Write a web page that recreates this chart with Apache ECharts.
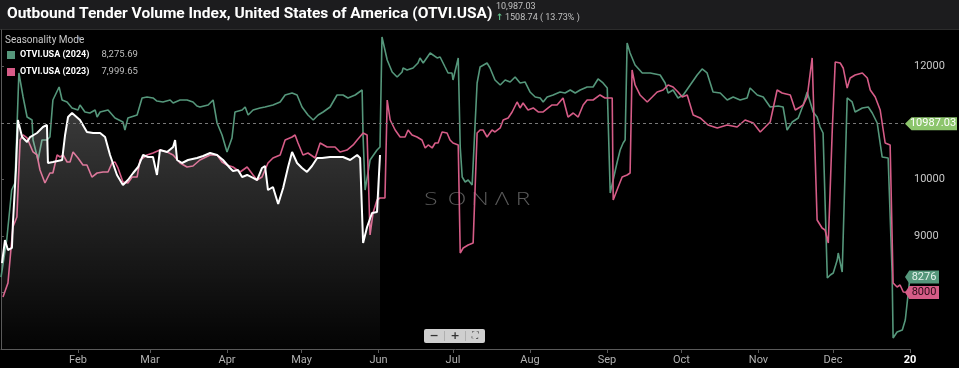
<!DOCTYPE html>
<html><head><meta charset="utf-8">
<script src="https://cdn.jsdelivr.net/npm/echarts@6/dist/echarts.min.js"></script>
<style>html,body{margin:0;padding:0;background:#000;}#c{width:959px;height:368px;}</style>
</head><body><div id="c"></div>
<script>
// x = day of year (0 = Jan 1), y = index value
const monthTickDays = [31,60,91,121,152,182,213,244,274,305,335,366];
const monthTickLabels = ['Feb','Mar','Apr','May','Jun','Jul','Aug','Sep','Oct','Nov','Dec','20'];

const otvi2024 = [[0,8274],[2.3,8929],[4.3,9814],[5.6,9938],[6.3,10752],[7.2,11885],[8.9,11460],[10.5,11106],[12.5,11053],[12.9,10699],[14.9,10345],[16.5,10699],[18.5,10699],[19.7,10752],[20.9,11407],[23.4,11637],[24.6,11407],[26.6,11372],[28.6,11266],[31,11230],[31.8,11319],[33.8,11195],[35.8,11177],[37.9,11230],[38.7,11106],[39.9,11195],[43.1,11230],[45.9,11089],[49.1,11018],[49.9,10876],[51.1,11089],[54.8,11142],[56.8,11443],[58.8,11460],[61.2,11443],[62.8,11389],[65.2,11372],[68.1,11407],[69.3,11354],[72.1,11407],[74.9,11407],[77.3,11372],[78.9,11301],[80.1,11283],[83.4,11319],[85.4,11407],[87,11000],[89,10788],[91,10487],[93,10735],[94.2,11195],[97.1,11230],[98.3,11283],[99.5,11142],[101.5,11230],[104.3,11266],[106.3,11283],[109.5,11319],[112.4,11372],[114.4,11496],[117.2,11531],[119.2,11496],[121.2,11283],[123.6,11142],[125.7,11053],[127.7,11142],[129.7,11195],[132.5,11283],[135.3,11496],[137.7,11496],[139.7,11443],[142.6,11496],[145.4,11584],[145.8,10752],[146.6,9814],[148.6,10345],[151.4,10522],[152.6,10575],[153.4,12522],[155.5,12115],[157.5,11903],[159.5,11814],[161.5,11903],[161.9,11974],[163.5,11938],[165.9,11974],[167.9,12062],[168.7,12151],[170,12062],[172.8,12239],[175.6,12151],[176.8,12168],[178.8,11991],[180,11885],[181.6,11885],[182,11761],[184.1,12151],[184.9,10575],[185.7,10044],[186.9,9956],[188.1,9991],[189.7,9903],[190.1,9903],[191.7,11708],[192.9,11991],[195.7,12062],[196.9,11974],[198.9,11761],[201,11673],[203,11761],[205,11726],[207,11814],[209,11708],[211,11726],[213,11549],[215.1,11460],[217.1,11443],[218.3,11372],[219.9,11460],[222.3,11496],[225.1,11549],[227.1,11531],[229.2,11584],[231.2,11531],[233.2,11584],[236,11637],[238.4,11637],[240.4,11779],[242.4,11708],[244.1,11620],[245.3,9761],[248.1,10310],[249.3,10522],[250.5,10646],[251.3,10699],[252.1,12416],[253.3,12239],[255.3,12027],[258.2,11885],[261.4,11885],[265.4,11850],[267.4,11708],[268.6,11531],[270.6,11584],[272.6,11443],[274.7,11496],[277.5,11673],[280.3,11850],[282.3,11956],[284.3,11885],[286.7,11549],[289.6,11531],[292.4,11407],[294.8,11460],[297.6,11407],[300.4,11443],[301.6,11620],[304.5,11496],[306.9,11460],[309.7,11283],[312.9,11301],[314.9,11283],[316.5,10876],[318.6,11018],[321,11089],[323,11319],[324.6,11549],[325.8,11372],[327,11195],[328.6,11106],[329.8,10929],[331,10823],[332.7,8257],[333.9,8310],[335.1,8345],[336.7,8575],[337.1,8699],[338.7,8363],[340.7,11443],[342.7,11372],[343.9,11195],[346.8,11266],[349.2,11283],[350.8,11177],[352.8,11000],[354.8,10398],[357.2,10381],[358.8,8345],[359.2,7195],[360.8,7301],[362.9,7336],[364.1,7513],[364.9,7478],[366,8276]];

const otvi2023 = [[0.8,7920],[2.8,8168],[4.8,9159],[6.4,9336],[7.7,10699],[8.9,10788],[10.5,10735],[11.7,10611],[12.9,10487],[14.5,10434],[15.7,10168],[17.7,9938],[19.7,10115],[20.9,10115],[22.6,10434],[23.8,10398],[25,10434],[26.6,10310],[27.8,10310],[29,10487],[31,10381],[33,10257],[34.6,10257],[36.6,10044],[38.7,10115],[41.1,10133],[43.1,10133],[44.7,10292],[45.9,10310],[47.1,10204],[49.1,9956],[51.1,9938],[52.8,10044],[54.8,10044],[56,10345],[58.8,10434],[61.2,10469],[64,10522],[66.9,10487],[69.3,10434],[72.1,10292],[74.9,10221],[77.3,10239],[80.1,10345],[84.2,10434],[87,10434],[89,10310],[91,10257],[93.4,10221],[96.3,10133],[99.1,10221],[101.5,10080],[103.1,9991],[105.1,10044],[107.5,10292],[109.5,10381],[112.4,10434],[114.4,10699],[117.2,10752],[118.4,10788],[119.6,10646],[121.6,10434],[123.6,10469],[126.5,10381],[128.5,10646],[131.3,10575],[134.5,10575],[136.5,10487],[139.3,10522],[141.8,10611],[143.4,10699],[145.8,10823],[147.4,10788],[148.6,9018],[149.8,9407],[151.4,9637],[152.6,9672],[154.6,9672],[155.5,11407],[156.7,11053],[158.7,10876],[160.7,10752],[162.7,10752],[163.9,10876],[165.5,10788],[167.5,10752],[169.5,10699],[170.8,10558],[172,10611],[173.6,10558],[174.8,10646],[176,10646],[177.6,10841],[179.6,10823],[180.8,10699],[182,10646],[184.1,10611],[184.9,8699],[186.1,8788],[188.1,8841],[190.1,8876],[191.7,10823],[192.9,10876],[194.1,10876],[195.7,10752],[197.7,10876],[198.9,10841],[201,10912],[202.2,11053],[204.2,11089],[205.8,11195],[207.8,11372],[209,11266],[210.2,11354],[212.2,11230],[214.3,11266],[216.3,11195],[218.3,11195],[220.3,11266],[221.9,11319],[223.9,11319],[226.3,11443],[228.3,11106],[230.4,11177],[232.4,11106],[234.4,11319],[236,11407],[238.4,11407],[241.2,11496],[243.2,11443],[246.1,11443],[246.5,9637],[248.5,9867],[250.1,10044],[252.1,10080],[253.3,10115],[254.1,11938],[255.3,11673],[257.3,11496],[260.2,11372],[262.2,11460],[264.2,11549],[266.6,11584],[268.6,11673],[270.6,11637],[272.6,11549],[274.3,11460],[276.3,11496],[278.7,11142],[281.5,11089],[284.7,10965],[288.4,10912],[292.4,10965],[296.4,10929],[299.6,11053],[302.9,11000],[305.7,10841],[307.7,10929],[309.7,11018],[312.5,11584],[314.5,11531],[317.8,11496],[319.8,11230],[321.8,11283],[323,11319],[324.6,11460],[326.6,12151],[328.6,9283],[330.6,9142],[331.8,9106],[333.1,8876],[334.7,10876],[335.9,12080],[337.9,12062],[339.1,11974],[340.7,11620],[341.9,11797],[343.9,11850],[346.8,11885],[348.8,11797],[350,11584],[352,11460],[354,11230],[356,10646],[358,10611],[359.2,8168],[360.8,8097],[362,8133],[363.3,8009],[366,8000]];

const otviCurrent = [[0.4,8522],[1.6,8929],[2.8,8752],[4.4,8788],[4.8,9230],[6,10168],[6.8,11053],[8.5,10752],[10.5,10664],[11.7,10752],[14.5,10823],[16.9,10929],[18.5,10965],[18.9,10292],[20.9,10310],[24.6,10345],[25.8,10788],[27,11106],[28.6,11177],[31.8,11053],[34.6,10841],[37.1,10823],[39.9,10823],[41.9,10752],[43.9,10434],[46.7,10080],[49.1,9903],[51.1,9991],[53.2,10115],[55.2,10221],[57.2,10434],[59.2,10398],[61.2,10398],[62.8,10080],[64,10522],[66.9,10487],[69.3,10575],[70.1,10699],[70.9,10345],[72.9,10292],[75.3,10345],[78.9,10381],[81.4,10416],[84.2,10469],[87,10434],[89.4,10345],[92.2,10204],[93.4,10150],[95.4,10168],[97.1,10044],[99.1,10080],[101.5,10027],[103.1,9991],[105.1,10204],[106.3,10239],[107.5,9814],[109.5,9867],[111.6,9566],[113.6,9850],[115.6,10221],[117.2,10487],[119.2,10292],[121.2,10204],[123.2,10133],[125.2,10239],[127.3,10381],[129.3,10381],[132.5,10398],[135.3,10398],[137.7,10398],[140.6,10345],[143.4,10434],[144.6,10381],[145.8,8876],[147.4,9159],[149.4,9407],[151.4,9425],[152.6,10434]];

const seriesNames = ['OTVI.USA (2024)','OTVI.USA (2023)','OTVI.USA'];
const legendValues = ['8,275.69','7,999.65'];
const refValue = 10987.03;
const tagValues = [8276, 8000];
const headerValue = '10,987.03';
const headerChange = '1508.74 ( 13.73% )';
const watermark = ['S','O','N','\u039B','R'];

const GREEN = '#55977b', PINK = '#d65c87', REF = '#8cc56c';
const tagPath = 'path://M0,6 L5,0 L40,0 L40,12 L5,12 Z';

function tag(value, label, bg, fg, w) {
  return {
    silent: true, animation: false,
    symbol: tagPath, symbolSize: [w, 13], symbolOffset: [w/2 - 5, 0],
    itemStyle: {color: bg},
    label: {show: true, position: 'inside', offset: [2, 0], overflow: 'none', width: 80, align: 'center',
      formatter: label, color: fg, fontSize: 11, fontFamily: 'Roboto'},
    data: [{coord: [366, value]}]
  };
}

const chart = echarts.init(document.getElementById('c'), null, {renderer: 'canvas'});
chart.setOption({
  backgroundColor: '#000',
  animation: false,
  title: {text: 'Outbound Tender Volume Index, United States of America (OTVI.USA)', left: 7, top: 6, padding: 0,
    textStyle: {color: '#fff', fontSize: 15.5, fontWeight: 'bold', fontFamily: 'Roboto'}},
  legend: {
    data: [seriesNames[0], seriesNames[1]], orient: 'vertical', left: 7, top: 50, padding: 0,
    itemWidth: 8, itemHeight: 8, itemGap: 7, icon: 'rect', selectedMode: false,
    formatter: n => '{n|' + n + '}{v|' + legendValues[seriesNames.indexOf(n)] + '}',
    textStyle: {rich: {
      n: {color: '#fff', fontWeight: 'bold', fontSize: 9, fontFamily: 'Roboto'},
      v: {color: '#bdbdbd', fontSize: 9.5, fontFamily: 'Roboto', padding: [0, 0, 0, 12]}}}
  },
  grid: {left: 1, right: 49, top: 30, bottom: 19},
  xAxis: {
    type: 'value', min: 0, max: 366,
    splitLine: {show: false},
    axisLine: {lineStyle: {color: '#5a5a5a'}},
    axisTick: {show: true, customValues: monthTickDays, length: 4, lineStyle: {color: '#5a5a5a'}},
    axisLabel: {customValues: monthTickDays, color: '#b0b0b0', fontSize: 11, margin: 6, fontFamily: 'Roboto',
      formatter: v => { const i = monthTickDays.indexOf(v); const l = monthTickLabels[i] || '';
        return i === monthTickDays.length - 1 ? '{y|' + l + '}' : l; },
      rich: {y: {fontWeight: 'bold', color: '#fff', fontSize: 11, fontFamily: 'Roboto'}}}
  },
  yAxis: {
    type: 'value', position: 'right', min: 7000, max: 12646, interval: 1000,
    splitLine: {show: false},
    axisLine: {show: true, lineStyle: {color: '#5a5a5a'}},
    axisTick: {show: true, length: 3, lineStyle: {color: '#5a5a5a'}},
    axisLabel: {color: '#c8c8c8', fontSize: 11, margin: 4, showMinLabel: false, showMaxLabel: false, fontFamily: 'Roboto',
      formatter: v => String(v)}
  },
  series: [
    {name: seriesNames[0], type: 'line', data: otvi2024, showSymbol: false, symbol: 'none',
      itemStyle: {color: GREEN}, lineStyle: {color: GREEN, width: 1.6}, z: 3,
      markPoint: tag(tagValues[0], String(tagValues[0]), GREEN, '#e4f2ec', 34)},
    {name: seriesNames[1], type: 'line', data: otvi2023, showSymbol: false, symbol: 'none',
      itemStyle: {color: PINK}, lineStyle: {color: PINK, width: 1.6}, z: 3,
      markPoint: tag(tagValues[1], String(tagValues[1]), PINK, '#2a0a16', 34)},
    {name: seriesNames[2], type: 'line', data: otviCurrent, showSymbol: false, symbol: 'none',
      itemStyle: {color: '#fff'}, lineStyle: {color: '#fff', width: 2}, z: 4,
      areaStyle: {color: new echarts.graphic.LinearGradient(0, 0, 0, 1, [
        {offset: 0, color: 'rgba(255,255,255,0.32)'}, {offset: 1, color: 'rgba(255,255,255,0.02)'}])},
      markLine: {silent: true, symbol: 'none', animation: false,
        lineStyle: {color: '#777', type: [3, 3], width: 1}, label: {show: false},
        data: [{yAxis: refValue}]},
      markPoint: tag(refValue, refValue.toFixed(2), REF, '#ffffff', 52)}
  ],
  graphic: [
    {type: 'rect', z: -1, shape: {x: 0, y: 0, width: 959, height: 29}, style: {fill: '#1c1c1e'}},
    {type: 'rect', z: -1, shape: {x: 0, y: 29, width: 959, height: 1}, style: {fill: '#2c2c2c'}},
    {type: 'text', x: 496, y: 2, style: {text: headerValue, fill: '#c0c0c0', font: '9px Roboto'}},
    {type: 'text', x: 496, y: 13, style: {text: '\u2191', fill: '#5fc18a', font: 'bold 9px DejaVu Sans'}},
    {type: 'text', x: 505, y: 13, style: {text: headerChange, fill: '#c0c0c0', font: '9px Roboto'}},
    {type: 'text', x: 5, y: 35, style: {text: 'Seasonality Mode', fill: '#c8c8c8', font: '10px Roboto'}},
    {type: 'text', x: 77, y: 36, style: {text: '^', fill: '#7f8fb0', font: '9px Roboto'}},
    {type: 'group', x: 0, y: 200, children: watermark.map((ch, i) => ({
      type: 'text', x: [431, 457, 480, 502, 523][i], y: 0, scaleX: 1.35,
      style: {text: ch, fill: '#595959', font: '300 18px "Open Sans", sans-serif', align: 'center', verticalAlign: 'middle'}}))},
    {type: 'group', x: 424, y: 329, children: [
      {type: 'rect', shape: {x: 0, y: 0, width: 61, height: 14, r: 2}, style: {fill: '#cfcfcf'}},
      {type: 'rect', shape: {x: 20, y: 2, width: 1, height: 10}, style: {fill: '#b0b0b0'}},
      {type: 'rect', shape: {x: 41, y: 2, width: 1, height: 10}, style: {fill: '#b0b0b0'}},
      {type: 'text', x: 10, y: 7, style: {text: '\u2212', fill: '#333', font: 'bold 11px DejaVu Sans', align: 'center', verticalAlign: 'middle'}},
      {type: 'text', x: 31, y: 7, style: {text: '+', fill: '#333', font: 'bold 11px DejaVu Sans', align: 'center', verticalAlign: 'middle'}},
      {type: 'text', x: 51, y: 7, style: {text: '\u26F6', fill: '#444', font: '9px DejaVu Sans', align: 'center', verticalAlign: 'middle'}}
    ]}
  ]
});
</script></body></html>
